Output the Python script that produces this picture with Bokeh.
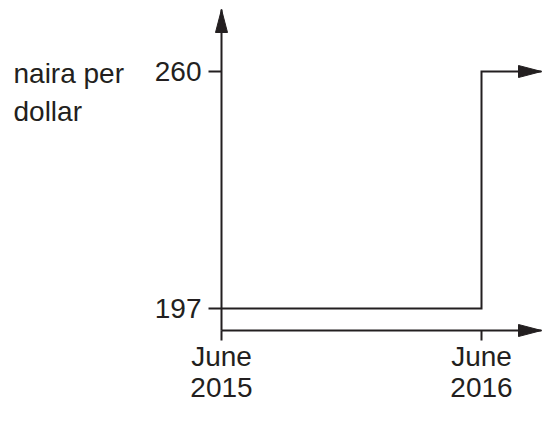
from datetime import datetime, timedelta
from bokeh.plotting import figure
from bokeh.models import Range1d, FixedTicker, Label
from bokeh.embed import file_html
from bokeh.resources import INLINE

# ---- data ----
dates = ["2015-06-01", "2016-06-01"]
rate = [197, 260]
x_tick_labels = ["June\n2015", "June\n2016"]
y_ticks = [197, 260]
y_title = "naira per\ndollar"

INK = "#231f20"
FONT = "Liberation Sans"
FS = "28px"

EPOCH = datetime(1970, 1, 1)
def ms(d):
    return (d - EPOCH).total_seconds() * 1000.0

dts = [datetime.fromisoformat(d) for d in dates]
t0, t1 = ms(dts[0]), ms(dts[1])

# ---- layout (canvas pixels) ----
W, H = 543, 407
X_T0, X_T1 = 221, 481          # pixel columns of the two date ticks
Y_HI, Y_LO = 71, 308           # pixel rows of the two rate ticks
Y_XAXIS = 330                  # row of the time axis
Y_TIP = 9                      # tip of the vertical axis arrow
X_TIP = 541                    # tip of the horizontal arrows

ms_per_px = (t1 - t0) / (X_T1 - X_T0)
px_per_unit = (Y_LO - Y_HI) / (rate[1] - rate[0])

def xd(px):
    return t0 + (px - X_T0) * ms_per_px

def yd(py):
    return rate[0] - (py - Y_LO) / px_per_unit

p = figure(width=W, height=H, output_backend="svg", toolbar_location=None,
           x_axis_type="datetime",
           x_range=Range1d(xd(0), xd(W)), y_range=Range1d(yd(H), yd(0)),
           min_border=0)
p.outline_line_color = None
p.xgrid.grid_line_color = None
p.ygrid.grid_line_color = None
p.background_fill_color = "white"
p.border_fill_color = "white"

x_axis_level = yd(Y_XAXIS)
x_arrow_end = xd(X_TIP)
y_arrow_end = yd(Y_TIP)

xa = p.xaxis[0]
ya = p.yaxis[0]
xa.fixed_location = x_axis_level
ya.fixed_location = t0
xa.bounds = (t0, x_arrow_end)
ya.bounds = (x_axis_level, y_arrow_end)

for ax in (xa, ya):
    ax.axis_line_color = INK
    ax.axis_line_width = 2
    ax.major_tick_line_color = INK
    ax.major_tick_line_width = 2
    ax.minor_tick_line_color = None
    ax.major_tick_in = 0
    ax.major_label_text_font = FONT
    ax.major_label_text_font_size = FS
    ax.major_label_text_color = INK

x_tick_vals = [ms(d) for d in dts]
xa.ticker = FixedTicker(ticks=x_tick_vals)
xa.major_label_overrides = {v: t for v, t in zip(x_tick_vals, x_tick_labels)}
xa.major_tick_out = 10
xa.major_label_standoff = 0
xa.major_label_text_line_height = 1.0

ya.ticker = FixedTicker(ticks=y_ticks)
ya.major_tick_out = 13
ya.major_label_standoff = 7

# step series
p.step(x=dts + [EPOCH + timedelta(milliseconds=x_arrow_end)],
       y=rate + [rate[-1]], mode="after",
       line_width=2, line_color=INK, line_join="miter")

# arrow heads (23 px long, 12 px wide)
HEAD_L, HEAD_W = 23, 6
def head_up(x, y):
    return [x, x - HEAD_W * ms_per_px, x + HEAD_W * ms_per_px], \
           [y, y - HEAD_L / px_per_unit, y - HEAD_L / px_per_unit]

def head_right(x, y):
    return [x, x - HEAD_L * ms_per_px, x - HEAD_L * ms_per_px], \
           [y, y + HEAD_W / px_per_unit, y - HEAD_W / px_per_unit]

heads = [head_up(t0, y_arrow_end),
         head_right(x_arrow_end, x_axis_level),
         head_right(x_arrow_end, rate[-1])]
p.patches(xs=[h[0] for h in heads], ys=[h[1] for h in heads],
          fill_color=INK, line_color=INK, line_width=1)

p.add_layout(Label(x=t0, x_offset=-208, y=rate[-1], y_offset=14,
                   text=y_title, text_baseline="top", text_align="left",
                   text_font=FONT, text_font_size=FS, text_color=INK,
                   text_line_height=1.25))

open("out.html", "w").write(file_html(p, INLINE))
